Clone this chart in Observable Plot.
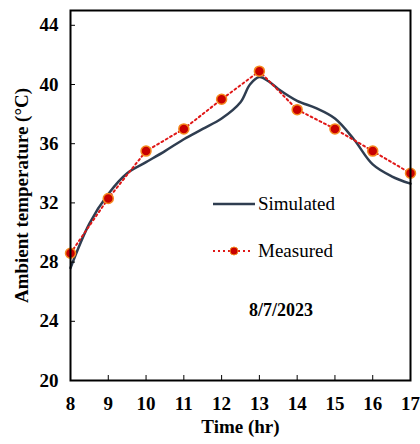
<!DOCTYPE html>
<html>
<head>
<meta charset="utf-8">
<script src="https://cdn.jsdelivr.net/npm/d3@7"></script>
<script src="https://cdn.jsdelivr.net/npm/@observablehq/plot@0.6"></script>
<style>
  body { margin: 0; background: white; }
  #wrap { position: relative; width: 420px; height: 444px; font-family: "Liberation Serif", "Times New Roman", serif; }
  #legend { position: absolute; left: 0; top: 0; width: 420px; height: 444px; pointer-events: none; }
</style>
</head>
<body>
<div id="wrap"></div>
<script>
const hours = [8, 9, 10, 11, 12, 13, 14, 15, 16, 17];
const measured = [28.6, 32.3, 35.5, 37.0, 39.0, 40.9, 38.3, 37.0, 35.5, 34.0];
const simHours = [8, 8.5, 9, 9.5, 10, 10.5, 11, 11.5, 12, 12.5, 12.75, 13, 13.25, 13.5, 14, 14.5, 15, 15.5, 16, 16.5, 17];
const simulated = [27.6, 30.6, 32.6, 34.0, 34.75, 35.5, 36.3, 37.0, 37.7, 38.8, 40.0, 40.5, 40.2, 39.7, 38.9, 38.4, 37.7, 36.3, 34.6, 33.8, 33.3];
const yTicks = [20, 24, 28, 32, 36, 40, 44];
const seriesNames = ["Simulated", "Measured"];
const dateLabel = "8/7/2023";
const xTitle = "Time (hr)";
const yTitle = "Ambient temperature (°C)";

const measData = hours.map((h, i) => ({h, v: measured[i]}));
const simData = simHours.map((h, i) => ({h, v: simulated[i]}));

const simColor = "#2f3d50";
const measColor = "#e01818";
const dotFill = "#c80000";
const dotStroke = "#f58a1f";

const chart = Plot.plot({
  width: 420,
  height: 444,
  marginLeft: 70,
  marginRight: 10,
  marginTop: 10,
  marginBottom: 64,
  style: { fontFamily: "Liberation Serif, Times New Roman, serif", color: "black", background: "white" },
  x: { domain: [8, 17] },
  y: { domain: [20, 45] },
  marks: [
    Plot.line(simData, { x: "h", y: "v", stroke: simColor, strokeWidth: 2.5, curve: "catmull-rom" }),
    Plot.line(measData, { x: "h", y: "v", stroke: measColor, strokeWidth: 2, strokeDasharray: "2,3" }),
    Plot.dot(measData, { x: "h", y: "v", r: 5, fill: dotFill, stroke: dotStroke, strokeWidth: 1.5 }),
    Plot.axisX({ ticks: hours, tickSize: -5, text: null, label: null, stroke: "black" }),
    Plot.axisX({ ticks: hours, tickSize: 0, tickPadding: 16, fontSize: 19, fontWeight: "bold", tickFormat: d => String(d),
      label: xTitle, labelAnchor: "center", labelOffset: 52, labelArrow: "none" }),
    Plot.axisY({ ticks: yTicks, tickSize: -5, text: null, label: null, stroke: "black" }),
    Plot.axisY({ ticks: yTicks, tickSize: 0, tickPadding: 12, fontSize: 19, fontWeight: "bold", tickFormat: d => String(d),
      label: yTitle, labelAnchor: "center", labelOffset: 56, labelArrow: "none" }),
    Plot.frame({ stroke: "black", strokeWidth: 2 })
  ]
});

chart.querySelectorAll("g[aria-label='x-axis label'] text, g[aria-label='y-axis label'] text").forEach(t => {
  t.setAttribute("font-size", "19");
  t.setAttribute("font-weight", "bold");
});

const wrap = document.getElementById("wrap");
wrap.appendChild(chart);

// Legend overlay
const ns = "http://www.w3.org/2000/svg";
const leg = document.createElementNS(ns, "svg");
leg.setAttribute("id", "legend");
leg.setAttribute("width", 420);
leg.setAttribute("height", 444);
function el(name, attrs, text) {
  const e = document.createElementNS(ns, name);
  for (const k in attrs) e.setAttribute(k, attrs[k]);
  if (text) e.textContent = text;
  leg.appendChild(e);
  return e;
}
el("line", { x1: 213, x2: 255, y1: 204, y2: 204, stroke: simColor, "stroke-width": 2.5 });
el("text", { x: 258, y: 210, "font-size": 19, "font-family": "Liberation Serif, serif", fill: "black" }, seriesNames[0]);
el("line", { x1: 213, x2: 253, y1: 251, y2: 251, stroke: measColor, "stroke-width": 2, "stroke-dasharray": "2,3" });
el("circle", { cx: 234, cy: 251, r: 4, fill: dotFill, stroke: dotStroke, "stroke-width": 1 });
el("text", { x: 258, y: 257, "font-size": 19, "font-family": "Liberation Serif, serif", fill: "black" }, seriesNames[1]);
el("text", { x: 281, y: 316, "font-size": 18, "font-weight": "bold", "text-anchor": "middle", "font-family": "Liberation Serif, serif", fill: "black" }, dateLabel);
wrap.appendChild(leg);
</script>
</body>
</html>
